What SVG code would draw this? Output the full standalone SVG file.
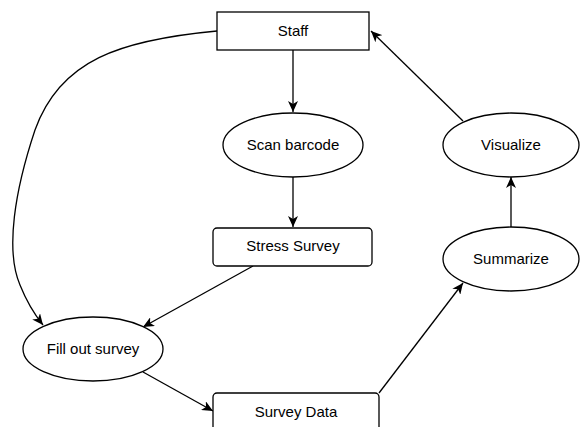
<svg xmlns="http://www.w3.org/2000/svg" width="580" height="427" viewBox="0 0 580 427">
<style>
.n{fill:#fff;stroke:#000;stroke-width:1.3}
.t{font-family:"Liberation Sans",Arial,sans-serif;font-size:15px;fill:#000;text-anchor:middle}
.e{fill:none;stroke:#000;stroke-width:1.3}
</style>
<defs>
<marker id="a" markerUnits="userSpaceOnUse" markerWidth="12" markerHeight="10" refX="11" refY="5" orient="auto">
<path d="M0,0 L11,5 L0,10 L3,5 Z" fill="#000"/>
</marker>
</defs>
<rect width="580" height="427" fill="#fff"/>
<g id="connectors">
<path class="e" d="M293,50 L293,112" marker-end="url(#a)"/>
<path class="e" d="M293,177 L293,227" marker-end="url(#a)"/>
<path class="e" d="M463,121 L371,31" marker-end="url(#a)"/>
<path class="e" d="M511,227 L511,177" marker-end="url(#a)"/>
<path class="e" d="M253,266 L143,327" marker-end="url(#a)"/>
<path class="e" d="M217,31 C120,40 60,60 35,130 C15,190 5,250 20,285 C28,305 35,315 43,325" marker-end="url(#a)"/>
<path class="e" d="M143,372 L213,411" marker-end="url(#a)"/>
<path class="e" d="M379,393 L463,283" marker-end="url(#a)"/>
</g>
<g id="staff">
<rect class="n" x="217" y="12" width="152" height="38"/>
<text class="t" x="293" y="36">Staff</text>
</g>
<g id="scan">
<ellipse class="n" cx="293" cy="145" rx="70" ry="32"/>
<text class="t" x="293" y="150">Scan barcode</text>
</g>
<g id="visualize">
<ellipse class="n" cx="511" cy="145" rx="68" ry="32"/>
<text class="t" x="511" y="150">Visualize</text>
</g>
<g id="stress">
<rect class="n" x="213" y="228" width="159" height="38" rx="4"/>
<text class="t" x="293" y="251">Stress Survey</text>
</g>
<g id="summarize">
<ellipse class="n" cx="511" cy="259" rx="68" ry="32"/>
<text class="t" x="511" y="264">Summarize</text>
</g>
<g id="fillout">
<ellipse class="n" cx="93" cy="349" rx="70" ry="32"/>
<text class="t" x="93" y="354">Fill out survey</text>
</g>
<g id="surveydata">
<rect class="n" x="213" y="393" width="166" height="40" rx="4"/>
<text class="t" x="296" y="417">Survey Data</text>
</g>
</svg>
